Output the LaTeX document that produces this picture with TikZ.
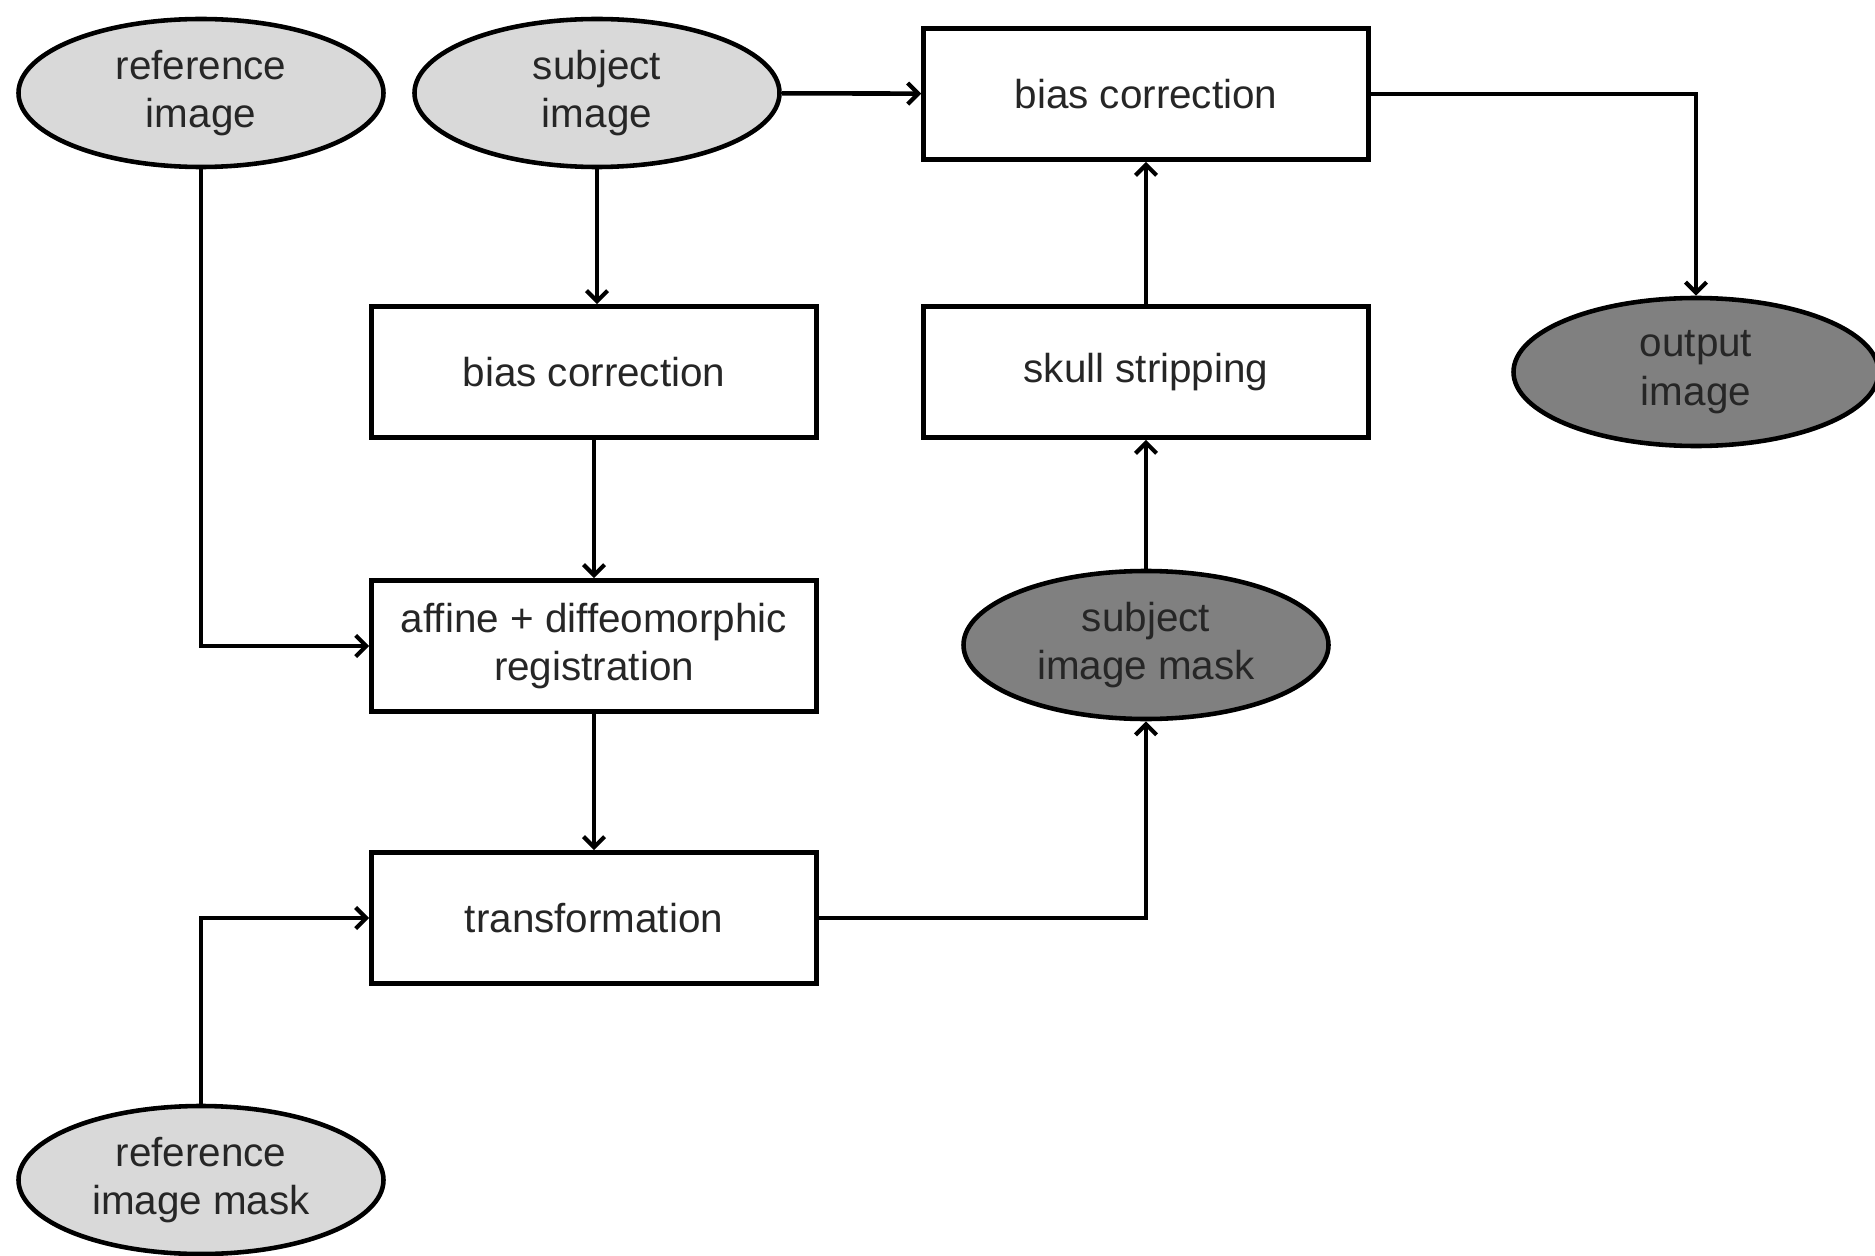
\documentclass[tikz,border=0pt]{standalone}
\usepackage{fontspec}
\setmainfont{Liberation Sans}
\usepackage{tikz}
\usetikzlibrary{shapes.geometric,arrows.meta}
\definecolor{inputgray}{HTML}{D9D9D9}
\definecolor{outputgray}{HTML}{808080}
\definecolor{textgray}{HTML}{262626}

\tikzset{
  every node/.style={font=\fontsize{23}{27.5}\selectfont, text=textgray, align=center,
    execute at begin node={\vspace*{2.4mm}}},
  procbox/.style={draw, line width=2.6pt, rectangle, minimum width=8.9cm, minimum height=2.62cm, inner sep=0pt},
  inimg/.style={draw, line width=2.6pt, ellipse, fill=inputgray, minimum width=7.3cm, minimum height=2.96cm, inner sep=0pt},
  outimg/.style={inimg, fill=outputgray},
  flow/.style={line width=2.6pt, -{Straight Barb[length=6pt,width=12pt,line width=2.4pt]}}
}

\begin{document}
\begin{tikzpicture}
\useasboundingbox (0,0) rectangle (37.5,-25.12);
% inputs
\node[inimg] (refimg) at (4.02,-1.86) {reference\\image};
\node[inimg] (subimg) at (11.94,-1.86) {subject\\image};
\node[inimg] (refmask) at (4.02,-23.6) {reference\\image mask};
% processing steps
\node[procbox] (biasfinal) at (22.92,-1.88) {bias correction};
\node[procbox] (biassub) at (11.88,-7.44) {bias correction};
\node[procbox] (skull) at (22.92,-7.44) {skull stripping};
\node[procbox] (reg) at (11.88,-12.92) {affine + diffeomorphic\\registration};
\node[procbox] (transf) at (11.88,-18.36) {transformation};
% outputs
\node[outimg] (submask) at (22.92,-12.9) {subject\\image mask};
\node[outimg] (outimg) at (33.92,-7.44) {output\\image};

\draw[flow] (subimg) -- (biasfinal);
\draw[flow] (subimg.south) -- (subimg.south |- biassub.north);
\draw[flow] (biassub) -- (reg);
\draw[flow] (refimg.south) |- (reg.west);
\draw[flow] (reg) -- (transf);
\draw[flow] (refmask.north) |- (transf.west);
\draw[flow] (transf.east) -| (submask.south);
\draw[flow] (submask) -- (skull);
\draw[flow] (skull) -- (biasfinal);
\draw[flow] (biasfinal.east) -| (outimg.north);
\end{tikzpicture}
\end{document}
